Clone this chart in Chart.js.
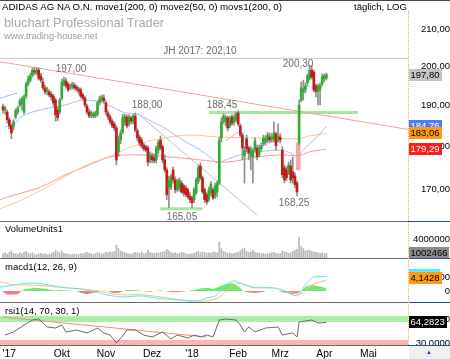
<!DOCTYPE html>
<html><head><meta charset="utf-8">
<script src="https://cdn.jsdelivr.net/npm/chart.js@4.4.1/dist/chart.umd.min.js"></script>
<style>
body{margin:0;width:450px;height:359px;overflow:hidden;background:#fff;position:relative;font-family:"Liberation Sans",Arial,sans-serif;}
canvas{position:absolute;left:0;}
.t{position:absolute;white-space:nowrap;line-height:1;}
.h{position:absolute;height:1px;}
</style></head><body>
<canvas id="cp" width="450" height="222" style="top:0"></canvas>
<canvas id="cv" width="450" height="36" style="top:222px"></canvas>
<canvas id="cm" width="450" height="43" style="top:259px"></canvas>
<canvas id="cr" width="450" height="56" style="top:303px"></canvas>

<div class="h" style="left:0;top:0;width:450px;background:#444"></div>
<div class="h" style="left:0;top:221px;width:408px;background:#6a6a6a"></div>
<div class="h" style="left:408px;top:221px;width:42px;background:#2a4c9c"></div>
<div class="h" style="left:0;top:258px;width:408px;background:#6a6a6a"></div>
<div class="h" style="left:408px;top:258px;width:42px;background:#2a4c9c"></div>
<div class="h" style="left:0;top:302px;width:408px;background:#6a6a6a"></div>
<div class="h" style="left:408px;top:302px;width:42px;background:#2a4c9c"></div>
<div class="h" style="left:0;top:345px;width:408px;background:#6a6a6a"></div>
<div class="h" style="left:408px;top:345px;width:42px;background:#2a4c9c"></div>
<div style="position:absolute;left:408px;top:11px;width:0;height:334px;border-left:1px dotted #e2b050"></div>
<div style="position:absolute;left:409px;top:346px;width:41px;height:13px;background:#efefef"></div>
<div class="t" style="left:426px;top:349px;font-size:6px;color:#2040c0">▲</div>

<div class="t" style="left:2px;top:2px;font-size:9.7px;color:#000">ADIDAS AG NA O.N. move1(200, 0) move2(50, 0) movs1(200, 0)</div>
<div class="t" style="left:354px;top:2px;font-size:9.5px;color:#000">täglich, LOG</div>
<div class="t" style="left:4px;top:17px;font-size:12.8px;color:#a9a9a9">bluchart Professional Trader</div>
<div class="t" style="left:4px;top:32px;font-size:9.2px;color:#9a9a9a">www.trading-house.net</div>
<div class="t" style="left:5px;top:224px;font-size:9.4px;color:#000">VolumeUnits1</div>
<div class="t" style="left:5px;top:262px;font-size:9.5px;color:#000">macd1(12, 26, 9)</div>
<div class="t" style="left:5px;top:306px;font-size:9.5px;color:#000">rsi1(14, 70, 30, 1)</div>

<script>
// ---- price data (daily, index 0 = late Aug 2017) ----
const open = [189.6,188.8,188.3,186.4,184.9,184.7,187.1,188.3,190.1,190.3,
188.3,192.3,195.4,196.4,197.7,198.8,198.2,199.0,197.5,195.9,
194.4,193.6,193.4,192.8,192.3,191.3,188.8,188.3,191.8,195.4,
196.2,195.4,194.4,194.9,195.1,194.6,194.1,193.9,192.6,191.8,
189.8,188.3,187.6,187.3,187.3,187.8,190.6,191.3,191.8,190.6,
188.1,187.1,186.1,185.4,184.4,178.7,181.5,183.4,185.9,187.1,
185.4,186.9,185.9,187.3,183.7,182.2,181.5,180.3,179.9,179.6,
176.8,177.7,177.3,176.8,179.1,181.5,179.9,176.8,174.5,170.4,
170.6,174.5,172.2,170.0,170.4,171.5,170.9,170.4,170.0,168.6,
168.2,167.8,169.3,171.8,175.4,172.7,170.0,168.9,167.8,169.3,
170.0,168.6,169.5,171.5,182.0,186.1,185.9,186.9,184.9,187.1,
185.9,186.4,188.1,184.9,182.7,177.7,181.8,179.6,177.7,177.5,
179.1,179.6,178.0,179.4,180.6,181.0,181.5,182.2,181.8,181.5,
183.0,181.5,182.2,179.1,175.0,174.5,173.8,175.4,174.0,173.1,
171.5,180.8,191.3,193.4,193.9,195.7,196.9,199.0,198.5,194.9,
193.4,193.9,195.4,196.7,196.9];
const high = [190.3,189.8,188.8,186.9,185.4,186.4,189.1,189.8,191.6,192.1,
192.6,195.9,197.5,198.2,199.6,199.6,199.6,199.6,198.2,196.9,
195.1,194.6,193.9,193.4,192.8,191.8,189.6,191.8,196.7,197.2,
196.9,195.9,195.4,195.9,195.7,195.1,194.6,194.4,193.1,192.3,
190.3,189.1,188.6,188.3,188.6,191.1,192.3,192.6,192.6,191.1,
188.6,187.6,186.6,185.9,184.9,182.5,183.9,187.8,187.8,187.6,
187.6,187.3,187.8,188.1,184.2,182.7,182.0,180.8,180.3,180.1,
178.7,178.4,178.2,180.1,181.5,182.5,180.3,178.0,175.0,173.1,
173.4,175.2,172.9,172.4,172.7,172.0,171.3,170.9,170.4,169.3,
168.6,170.4,172.7,175.6,176.1,173.1,170.4,169.3,170.6,171.8,
170.4,171.5,172.0,182.2,186.9,187.8,187.6,187.3,187.3,187.6,
187.6,188.3,188.6,185.4,183.2,179.9,182.7,180.1,179.9,179.6,
182.0,180.3,180.3,180.8,182.7,182.5,183.4,183.2,183.0,185.9,
183.4,185.4,183.0,179.9,175.6,175.2,176.3,176.8,177.5,173.8,
172.0,191.3,195.9,196.4,195.7,198.0,200.3,200.1,199.0,195.4,
195.4,195.7,198.0,198.0,198.2];
const low = [188.1,187.8,185.6,184.2,181.8,183.9,186.6,187.8,189.6,188.8,
187.8,191.8,194.9,195.9,197.2,197.7,197.7,196.4,195.9,193.9,
192.8,192.6,192.1,191.3,189.8,186.1,186.1,187.8,191.3,194.9,
194.4,193.4,193.9,194.1,193.9,193.6,192.8,191.8,191.3,189.6,
187.8,186.9,186.9,186.9,186.9,187.3,190.1,190.8,190.6,187.6,
186.4,185.4,184.4,183.7,175.6,177.7,180.6,183.0,185.1,184.4,
184.9,185.4,185.4,183.4,181.3,180.1,179.6,178.9,178.7,175.4,
176.1,176.1,176.1,176.1,178.2,179.1,176.1,174.0,167.8,166.0,
170.0,171.5,169.3,169.5,169.7,169.1,168.6,168.4,168.0,167.1,
166.0,167.1,168.9,171.3,172.2,169.1,167.1,166.7,167.3,168.6,
167.8,168.0,168.4,171.1,181.0,185.4,184.9,183.7,184.4,185.1,
185.1,185.9,184.9,182.2,176.8,171.5,178.7,176.8,174.5,171.5,
178.7,176.8,177.5,178.9,180.1,180.3,180.8,180.8,181.0,181.0,
179.1,181.0,180.8,172.7,171.5,172.0,173.4,171.5,171.5,170.4,
168.6,180.3,190.8,191.3,193.1,194.9,196.4,196.7,193.4,192.1,
190.1,190.1,194.9,195.9,196.4];
const close = [188.8,189.3,186.4,184.9,183.2,185.9,188.6,189.3,191.1,191.6,
192.1,195.4,196.7,197.5,199.0,198.5,199.0,196.9,196.4,194.4,
193.4,194.1,192.6,192.1,190.6,187.6,186.9,191.3,195.9,196.4,
194.9,193.9,194.9,195.4,194.4,194.1,193.6,192.3,191.8,190.1,
188.3,187.3,188.1,187.8,188.1,190.6,191.6,192.1,191.1,188.3,
187.1,185.9,184.9,184.4,176.8,181.5,183.2,186.9,187.3,184.9,
187.1,186.1,187.3,183.9,182.0,180.8,180.1,179.4,179.1,176.3,
178.0,176.8,176.6,179.6,181.0,179.6,176.8,174.5,168.9,172.2,
172.9,172.2,170.0,171.8,172.2,169.5,169.3,168.9,168.4,167.8,
167.1,170.0,172.2,175.0,172.7,169.5,167.8,167.3,170.0,171.3,
168.2,170.9,171.5,181.5,185.9,187.3,186.9,184.4,186.4,185.6,
186.9,187.8,185.4,182.7,179.6,179.1,179.4,178.4,179.1,178.9,
181.3,177.5,179.6,180.1,182.0,181.8,182.7,181.5,182.2,183.2,
180.1,182.5,181.5,173.4,172.2,172.7,175.6,172.2,172.7,171.1,
169.5,190.1,194.4,194.1,194.9,197.5,199.0,197.2,193.9,193.4,
194.9,195.1,197.2,197.5,197.8];
const volume = [900000,1100000,800000,1200000,1500000,1000000,900000,800000,1100000,900000,
1200000,1400000,1000000,900000,1100000,800000,700000,900000,1000000,800000,
900000,700000,800000,900000,1200000,1600000,1300000,1100000,1500000,1000000,
900000,800000,700000,800000,900000,700000,800000,1000000,900000,1100000,
1200000,1000000,900000,800000,900000,1100000,1000000,800000,900000,1200000,
1100000,1300000,1200000,1400000,2700000,2000000,1500000,1300000,1100000,1000000,
900000,800000,1000000,1200000,1100000,1000000,1300000,900000,1000000,1600000,
1200000,1000000,900000,1100000,1000000,1200000,1300000,1400000,1800000,1500000,
1200000,1000000,1100000,900000,1000000,1200000,1100000,900000,700000,800000,
900000,1000000,1200000,1400000,1100000,1300000,1200000,1000000,1100000,1000000,
1300000,1200000,1100000,3300000,2000000,1400000,1200000,1000000,1100000,900000,
1000000,1100000,1200000,1500000,1900000,2100000,1400000,1200000,1300000,1600000,
1200000,1100000,1000000,900000,1000000,800000,900000,1000000,1100000,1200000,
1000000,900000,1000000,1500000,1300000,1200000,1000000,1100000,1400000,1600000,
1800000,4400000,2400000,2000000,1500000,1600000,1700000,1400000,1300000,1200000,
1100000,1000000,1100000,900000,1002466];

// ---- moving averages (read at sample days) ----
const ma50Idx = [1,5,8,14,22,30,38,46,52,57,65,71,76,82,88,94,99,102,106,113,122,132,137,140,144,149,154];
const ma50Val = [184.7,185.1,186.9,188.3,189.3,190.1,191.3,190.8,189.6,188.3,187.6,185.9,184.7,182.7,180.8,179.1,177.3,176.1,176.8,178.0,178.7,179.1,178.4,177.7,179.6,182.0,184.76];
const ma50bIdx = [-1.5,7];
const ma50bVal = [191.8,193.1];
const ema200Idx = [-1.5,1,13,27,38,51,65,77,89,103,122,140,146,154];
const ema200Val = [165.8,166.2,168.6,172.2,175.2,177.7,180.6,182.0,182.7,182.2,182.0,181.8,182.5,183.06];
const sma200Idx = [-1.5,1,18,30,41,51,62,75,94,106,121,134,140,146,154];
const sma200Val = [167.75,168.2,170.6,173.4,175.6,177.5,178.0,177.7,176.8,176.3,177.5,178.0,177.7,178.7,179.29];

// ---- drawn lines ----
const trendRedIdx = [-2,194], trendRedVal = [201.27,183.95];
const trendGrayIdx = [64,121], trendGrayVal = [188.0,164.4];
const jhIdx = [-2,194], jhVal = [202.1,202.1];
const resIdx = [98,169], resVal = [188.2,188.2];
const supIdx = [75,95], supVal = [165.8,165.8];
const ch1Idx = [106,113], ch1Val = [184.4,186.85];
const ch2Idx = [106,113], ch2Val = [181.3,183.7];
const gapIdx = [140.6], gapLow = [174.5], gapHigh = [180.8];
const priceTicks = [170,180,190,200,210];

// ---- MACD ----
const macdIdx = [-1.5,5,14,22,30,37,46,52,57,65,73,83,92,97,102,106,110,115,121,128,133,140,144,148,154];
const macdVal = [1.1,1.7,2.3,1.7,0.9,0.6,-0.6,-1.4,-1.7,-1.4,-2.0,-2.6,-2.9,-2.0,-1.1,1.7,2.9,1.7,0.9,0.9,0.3,-1.4,1.7,4.0,4.1428];
const sigIdx = [-1.5,7,14,26,37,46,56,65,75,86,95,102,106,112,119,128,138,141,147,154];
const sigVal = [2.6,1.7,1.7,1.1,0.6,0.0,-1.1,-1.1,-1.7,-2.6,-2.9,-2.0,-0.3,2.3,1.1,0.9,-0.6,-0.9,1.7,3.1];
const histIdx = [0,2,7,9,10,15,21,25,27,32,35,37,40,44,46,49,50,52,55,57,60,64,66,70,72,75,77,80,84,88,90,94,98,100,102,106,109,113,114,117,120,124,125,128,131,134,138,140,142,144,147,151,154];
const histVal = [-0.3,-1.1,-0.9,0,0.4,0.9,0.6,0.1,0.3,0.1,0,-0.5,-0.9,-0.4,0,0.1,0,-0.5,-0.6,0,0.3,0.2,0,-0.2,0,0.2,0,-0.3,-0.3,0,0.2,0.7,0.9,0.5,1.0,2.0,2.3,1.0,0,-0.4,-0.6,-0.3,0,0.1,0,-0.4,-0.9,-0.7,0,1.2,1.7,1.3,0.8];
const macdTicks = [0,4];

// ---- RSI ----
const rsiIdx = [1,5,10,14,17,21,25,28,30,35,40,45,48,51,54,57,59,63,67,71,76,80,83,88,91,94,97,100,103,106,111,113,115,117,120,125,131,133,138,140,141,147,150,154];
const rsiVal = [43.3,48.3,60,68.3,70,56.7,55,60,48.3,51.7,46.7,55,46.7,43.3,30,41.7,51.7,51.7,43.3,40,48.3,36.7,43.3,38.3,43.3,40,43.3,40,68.3,70,68.3,60,48.3,56.7,48.3,55,56.7,43.3,46.7,40,65,68.3,63.3,64.2823];
const rsiTrendIdx = [0,97], rsiTrendVal = [73.3,40];
const rsiTicks = [30,70];

// ---- x axis ----
const monthIdx = [3,28,49,71,90,112,132,153,174];
const monthLbl = ["'17","Okt","Nov","Dez","'18","Feb","Mrz","Apr","Mai"];

// ---- annotations ----
const notes = [['197,00',32.4,199.3],['188,00',68.6,190.1],['188,45',104.3,190.1],['200,30',140.5,200.6],['165,05',85.2,164.0],['168,25',138.6,167.0],['JH 2017: 202,10',93.8,204.1]];

Chart.defaults.font.family = '"Liberation Sans", Arial, sans-serif';
Chart.defaults.color = '#000';
const XMIN = -1.43, XMAX = 192.86;
const UP = '#2eae2e', DN = '#c81818';
const days = close.map((_, i) => i);
const pts = (xs, ys) => xs.map((x, k) => ({x: x, y: ys[k]}));
const fmt = (v, d) => v.toFixed(d).replace('.', ',');

function ln(xs, ys, color, width, order, smooth, extra) {
  return Object.assign({type: 'line', data: pts(xs, ys), borderColor: color, borderWidth: width, pointRadius: 0,
    fill: false, order: order, tension: 0, cubicInterpolationMode: smooth ? 'monotone' : 'default', borderCapStyle: 'butt'}, extra || {});
}
function xAxis(show) {
  const a = {type: 'linear', min: XMIN, max: XMAX, offset: false, display: show, grid: {display: false, drawTicks: false}, border: {display: false}};
  if (show) {
    a.afterBuildTicks = s => { s.ticks = monthIdx.map(v => ({value: v})); };
    a.afterFit = s => { s.height = 14; s.paddingLeft = 0; s.paddingRight = 0; };
    a.ticks = {autoSkip: false, maxRotation: 0, minRotation: 0, padding: 3, color: '#000', font: {size: 10.3},
      callback: (v, k) => monthLbl[k]};
  }
  return a;
}
function yAxis(type, min, max, ticks, pad, cb) {
  return {type: type, position: 'right', min: min, max: max,
    afterFit: s => { s.width = 42; s.paddingTop = 0; s.paddingBottom = 0; },
    afterBuildTicks: s => { s.ticks = ticks.map(v => ({value: v})); },
    grid: {display: false, drawTicks: false}, border: {display: false},
    ticks: {crossAlign: 'far', padding: pad, color: '#000', font: {size: 9.5}, callback: cb}};
}
function tag(ctx, y, text, bg, fg, w) {
  ctx.save();
  ctx.font = '9.5px "Liberation Sans", Arial';
  const tw = w || Math.ceil(ctx.measureText(text).width) + 3;
  ctx.fillStyle = bg;
  ctx.fillRect(409, Math.round(y) - 6, tw, 12);
  ctx.fillStyle = fg;
  ctx.textAlign = 'left'; ctx.textBaseline = 'middle';
  ctx.fillText(text, 410.5, Math.round(y) + 0.5);
  ctx.restore();
}
const common = {responsive: false, animation: false, devicePixelRatio: 1, events: [],
  plugins: {legend: {display: false}, tooltip: {enabled: false}}};

// ---------- price chart ----------
new Chart(document.getElementById('cp'), {
  type: 'bar',
  data: {datasets: [
    {type: 'bar', data: days.map(i => ({x: i, y: [open[i], close[i]]})), backgroundColor: days.map(i => close[i] >= open[i] ? UP : DN),
      barThickness: 2, minBarLength: 1, grouped: false, order: 0},
    {type: 'bar', data: days.map(i => ({x: i, y: [low[i], high[i]]})), backgroundColor: '#8e8e8e', barThickness: 1, grouped: false, order: 1},
    {type: 'bar', data: gapIdx.map((g, k) => ({x: g, y: [gapLow[k], gapHigh[k]]})), backgroundColor: 'rgba(244,150,150,0.85)', barThickness: 4, grouped: false, order: 2},
    ln(ma50Idx, ma50Val, '#a8bcf4', 1, 5, true),
    ln(ma50bIdx, ma50bVal, '#a8bcf4', 1, 5, false),
    ln(ema200Idx, ema200Val, '#fbc890', 1, 5, true),
    ln(sma200Idx, sma200Val, '#f49a9a', 1, 5, true),
    ln(trendRedIdx, trendRedVal, '#f4a0a0', 1, 6, false),
    ln(trendGrayIdx, trendGrayVal, '#c0c0c0', 1, 6, false),
    ln(jhIdx, jhVal, '#c8c8c8', 1, 7, false),
    ln(resIdx, resVal, '#a6e6a0', 3, 6, false),
    ln(supIdx, supVal, '#a6e6a0', 3, 6, false),
    ln(ch1Idx, ch1Val, '#f4a0a0', 1, 6, false),
    ln(ch2Idx, ch2Val, '#f4a0a0', 1, 6, false)
  ]},
  options: Object.assign({}, common, {
    layout: {padding: {top: 13, bottom: 1, left: 0, right: 0}},
    scales: {x: xAxis(false), y: yAxis('logarithmic', 163.13, 214.55, priceTicks, 11, v => fmt(v, 2))}
  }),
  plugins: [{
    id: 'notes',
    afterDatasetsDraw(chart) {
      const {ctx, scales: {x, y}} = chart;
      ctx.save();
      ctx.font = '10px "Liberation Sans", Arial';
      ctx.fillStyle = '#6c6c6c'; ctx.textAlign = 'center'; ctx.textBaseline = 'middle';
      notes.forEach(n => ctx.fillText(n[0], x.getPixelForValue(n[1]), y.getPixelForValue(n[2])));
      ctx.restore();
    },
    afterDraw(chart) {
      const y = chart.scales.y, ctx = chart.ctx;
      tag(ctx, y.getPixelForValue(ma50Val[ma50Val.length - 1]), fmt(ma50Val[ma50Val.length - 1], 2), '#4f7df2', '#fff');
      tag(ctx, y.getPixelForValue(ema200Val[ema200Val.length - 1]), fmt(ema200Val[ema200Val.length - 1], 2), '#ff9a10', '#000');
      tag(ctx, y.getPixelForValue(sma200Val[sma200Val.length - 1]), fmt(sma200Val[sma200Val.length - 1], 2), '#ff1c1c', '#fff');
      tag(ctx, y.getPixelForValue(close[close.length - 1]), fmt(close[close.length - 1], 2), '#c4c4c4', '#000');
    }
  }]
});

// ---------- volume ----------
new Chart(document.getElementById('cv'), {
  type: 'bar',
  data: {datasets: [{data: days.map(i => ({x: i, y: volume[i]})), backgroundColor: '#b8b8b8', barThickness: 1}]},
  options: Object.assign({}, common, {
    layout: {padding: 0},
    scales: {x: xAxis(false), y: yAxis('linear', 0, 7580000, [4000000], 3, v => String(v))}
  }),
  plugins: [{id: 'vtag', afterDraw(chart) {
    const v = volume[volume.length - 1];
    tag(chart.ctx, chart.scales.y.getPixelForValue(v), String(v), '#8c8c8c', '#000');
  }}]
});

// ---------- MACD ----------
new Chart(document.getElementById('cm'), {
  type: 'line',
  data: {datasets: [
    ln(histIdx, histVal, 'rgba(0,0,0,0)', 0, 3, false, {fill: {target: {value: 0}, above: '#74e474', below: '#f47e7e'}}),
    ln(sigIdx, sigVal, '#fbbf72', 1, 2, true),
    ln(macdIdx, macdVal, '#5ce8f4', 1, 1, true)
  ]},
  options: Object.assign({}, common, {
    layout: {padding: 0},
    scales: {x: xAxis(false), y: yAxis('linear', -3.14, 9.14, macdTicks, 11, v => v === 0 ? '0' : fmt(v, 4))}
  }),
  plugins: [{id: 'mtag', afterDraw(chart) {
    const y = chart.scales.y;
    tag(chart.ctx, y.getPixelForValue(macdVal[macdVal.length - 1]) - 1, '', '#5ce8f4', '#000', 31);
    tag(chart.ctx, y.getPixelForValue(macdVal[macdVal.length - 1]) + 2, fmt(macdVal[macdVal.length - 1], 4), '#ff9a10', '#000');
  }}]
});

// ---------- RSI ----------
new Chart(document.getElementById('cr'), {
  type: 'line',
  data: {datasets: [
    ln([XMIN - 1, XMAX + 1], [70, 70], '#aaf0a4', 6, 5, false, {clip: 0}),
    ln([XMIN - 1, XMAX + 1], [30, 30], '#ffb4b4', 6, 5, false, {clip: 0}),
    ln(rsiTrendIdx, rsiTrendVal, '#f48a8a', 1, 2, false),
    ln(rsiIdx, rsiVal, '#6a6a6a', 1, 1, false)
  ]},
  options: Object.assign({}, common, {
    layout: {padding: 0},
    scales: {x: xAxis(true), y: yAxis('linear', 26.67, 96.67, rsiTicks, 6, v => fmt(v, 4))}
  }),
  plugins: [{id: 'rtag', afterDraw(chart) {
    const v = rsiVal[rsiVal.length - 1];
    tag(chart.ctx, chart.scales.y.getPixelForValue(v), fmt(v, 4), '#000', '#fff');
  }}]
});
</script>
</body></html>
